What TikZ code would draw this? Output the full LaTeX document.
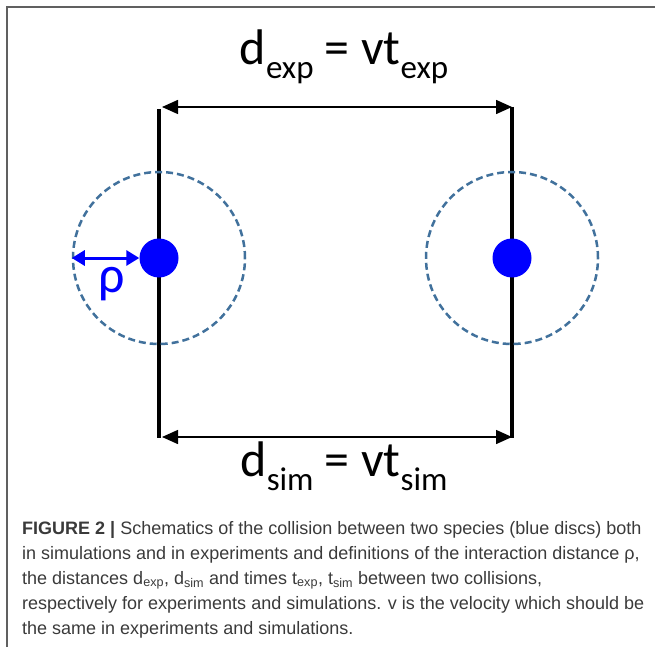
\documentclass[tikz,border=0pt]{standalone}
\usepackage{fontspec}
\usetikzlibrary{arrows.meta}
\newfontfamily\calibrifont{Carlito}
\newfontfamily\capfont{Liberation Sans}
\definecolor{ringblue}{HTML}{41719C}
\definecolor{capgray}{HTML}{3A3A3A}
\newcommand{\eqtext}[2]{{\calibrifont\fontsize{50}{50}\selectfont d\raisebox{-0.28em}{\fontsize{33}{33}\selectfont #1} = vt\raisebox{-0.28em}{\fontsize{33}{33}\selectfont #2}}}
\tikzset{
  wall/.style={line width=4pt},
  dimarrow/.style={line width=1.5pt,{Triangle[length=16pt,width=14pt]}-{Triangle[length=16pt,width=14pt]}},
  ring/.style={circle,draw=ringblue,line width=2.5pt,dash pattern=on 7pt off 4pt,minimum size=172pt,inner sep=0pt},
  disc/.style={circle,fill=blue,minimum size=39pt,inner sep=0pt},
  rhoarrow/.style={blue,line width=3pt,{Triangle[length=13pt,width=15pt]}-{Triangle[length=13pt,width=15pt]}},
  capline/.style={anchor=base west,inner sep=0pt,text=capgray,font=\capfont\fontsize{18}{22}\selectfont},
  frame/.style={draw=gray!75!black,line width=1.8pt}
}
\begin{document}
\begin{tikzpicture}[x=1pt,y=-1pt]
\useasboundingbox (0,0) rectangle (655,647);
\draw[frame] (7,647) -- (7,7) -- (655,7);
% walls
\coordinate (LT) at (159,107);
\coordinate (LB) at (159,438);
\coordinate (RT) at (512,107);
\coordinate (RB) at (512,438);
\draw[wall] (LT) ++(0,2) -- (LB);
\draw[wall] (RT) -- (RB);
\draw[dimarrow,shorten <=3pt] (LT) -- (RT);
\draw[dimarrow,shorten <=3pt] (LB) ++(0,-1) coordinate (LBa) (LBa) -- (RB |- LBa);
% rings and discs
\node[ring] (c1) at (159,258) {};
\node[ring] (c2) at (512,258) {};
\node[disc] (d1) at (159,258) {};
\node[disc] (d2) at (512,258) {};
\draw[rhoarrow] (c1.west) -- (d1.west);
\node[blue,font=\calibrifont\fontsize{52}{52}\selectfont] (rho) at (112,284) {ρ};
% labels
\node[anchor=base] (top) at (344,65) {\eqtext{exp}{exp}};
\node[anchor=base] (bot) at (344,476) {\eqtext{sim}{sim}};
% caption
\node[capline] (cap1) at (22,534) {\textbf{FIGURE 2 |} Schematics of the collision between two species (blue discs) both};
\node[capline] (cap2) at (22,559) {in simulations and in experiments and definitions of the interaction distance ρ,};
\node[capline] (cap3) at (22,584) {the distances d\textsubscript{exp}, d\textsubscript{sim} and times t\textsubscript{exp}, t\textsubscript{sim} between two collisions,};
\node[capline] (cap4) at (22,609) {respectively for experiments and simulations. v is the velocity which should be};
\node[capline] (cap5) at (22,634) {the same in experiments and simulations.};
\end{tikzpicture}
\end{document}
